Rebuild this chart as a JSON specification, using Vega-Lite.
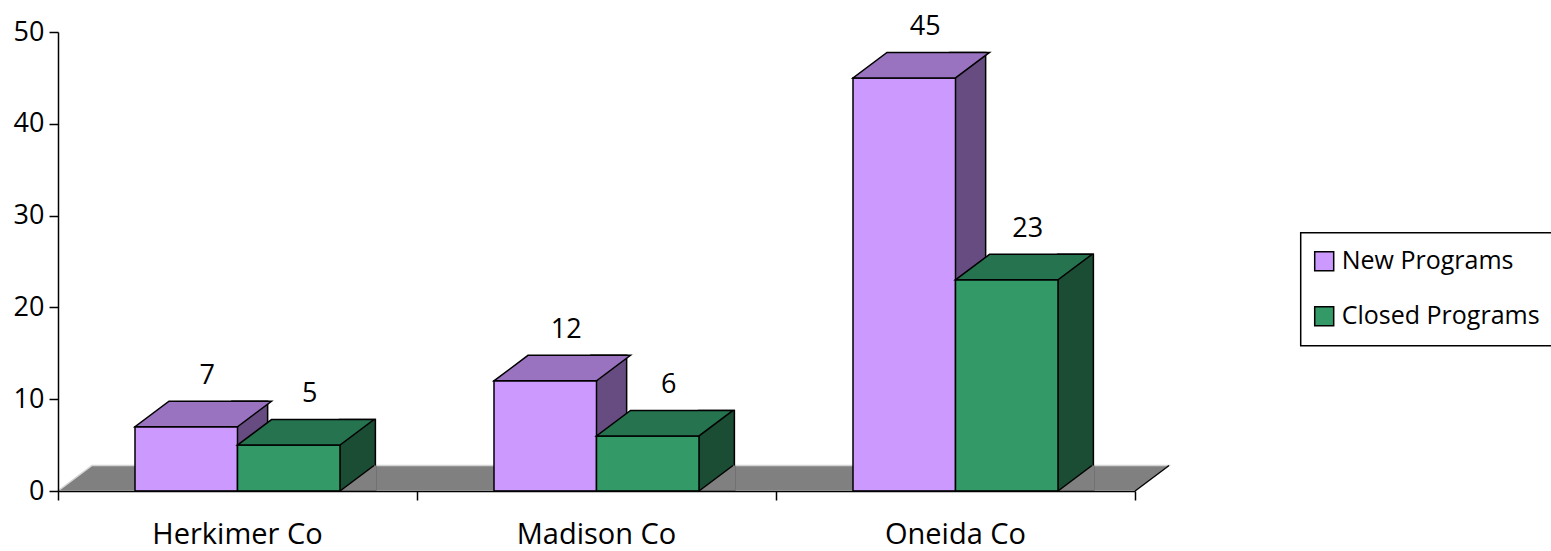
{
  "$schema": "https://vega.github.io/schema/vega-lite/v6.json",
  "width": 1077,
  "height": 459,
  "autosize": {"type": "none"},
  "padding": {"left": 58, "top": 32, "right": 416, "bottom": 60},
  "background": "white",
  "config": {
    "view": {"stroke": null},
    "font": "Open Sans",
    "legend": {"strokeWidth": 1.5}
  },
  "resolve": {"scale": {"xOffset": "independent"}, "axis": {"x": "independent"}},
  "data": {
    "values": [
      {"county": "Herkimer Co", "series": "New Programs", "value": 7},
      {"county": "Herkimer Co", "series": "Closed Programs", "value": 5},
      {"county": "Madison Co", "series": "New Programs", "value": 12},
      {"county": "Madison Co", "series": "Closed Programs", "value": 6},
      {"county": "Oneida Co", "series": "New Programs", "value": 45},
      {"county": "Oneida Co", "series": "Closed Programs", "value": 23}
    ]
  },
  "layer": [
    {
      "data": {"values": [{"county": "Madison Co", "value": 0}]},
      "mark": {"type": "point", "filled": true, "opacity": 1, "size": 4, "shape": "M -538.5 0 L 538.5 0 L 572.5 -25.5 L -504.5 -25.5 Z", "fill": "#808080", "stroke": "#d4d4d4", "strokeWidth": 1.5},
      "encoding": {
        "x": {
          "field": "county", "type": "nominal", "title": null,
          "scale": {"type": "band", "domain": ["Herkimer Co", "Madison Co", "Oneida Co"], "paddingInner": 0, "paddingOuter": 0},
          "axis": {"orient": "bottom", "zindex": 1, "labels": false, "tickSize": 9, "tickWidth": 1.5, "tickColor": "black", "domainColor": "black", "domainWidth": 1.5, "tickBand": "extent", "grid": false}
        },
        "y": {"field": "value", "type": "quantitative", "scale": {"domain": [0, 50], "nice": false}}
      }
    },
    {
      "data": {"values": [{"county": "Madison Co", "value": 0}]},
      "mark": {"type": "point", "filled": false, "opacity": 1, "size": 4, "shape": "M 538.5 0 L 572.5 -25.5", "stroke": "black", "strokeWidth": 1.5},
      "encoding": {
        "x": {"field": "county", "type": "nominal", "axis": null},
        "y": {"field": "value", "type": "quantitative"}
      }
    },
    {
      "mark": {"type": "bar", "yOffset": -25.5, "y2Offset": 0, "stroke": "black", "strokeWidth": 1.5},
      "encoding": {
        "x": {"field": "county", "type": "nominal", "axis": null},
        "xOffset": {"field": "series", "type": "nominal", "scale": {"type": "band", "domain": ["New Programs", "Closed Programs"], "paddingInner": 0.668, "paddingOuter": 1.0852, "align": 0.8069}},
        "y": {"field": "value", "type": "quantitative", "stack": null},
        "y2": {"datum": 0},
        "fill": {"condition": {"test": "datum.series === 'New Programs'", "value": "#664C80"}, "value": "#1A4D33"}
      }
    },
    {
      "mark": {"type": "point", "filled": true, "opacity": 1, "size": 4, "shape": "M 51.25 0 L 85.25 -25.5 L 87.5 -25.5 L 87.5 0 Z", "fill": "#808080", "strokeWidth": 0},
      "encoding": {
        "x": {"field": "county", "type": "nominal", "axis": null},
        "xOffset": {"field": "series", "type": "nominal", "scale": {"type": "band", "domain": ["New Programs", "Closed Programs"], "paddingInner": 0, "paddingOuter": 0.7512}},
        "y": {"datum": 0}
      }
    },
    {
      "mark": {"type": "point", "filled": false, "opacity": 1, "size": 4, "shape": "M 51.25 0 L 85.25 -25.5", "stroke": "black", "strokeWidth": 1.5},
      "encoding": {
        "x": {"field": "county", "type": "nominal", "axis": null},
        "xOffset": {"field": "series", "type": "nominal", "scale": {"type": "band", "domain": ["New Programs", "Closed Programs"], "paddingInner": 0, "paddingOuter": 0.7512}},
        "y": {"datum": 0}
      }
    },
    {
      "mark": {"type": "bar", "stroke": "black", "strokeWidth": 1.5},
      "encoding": {
        "x": {
          "field": "county", "type": "nominal", "title": null,
          "axis": {"orient": "bottom", "zindex": 1, "labelAngle": 0, "labelFontSize": 29, "labelColor": "black", "labelPadding": 29, "ticks": false, "tickSize": 0, "domain": false, "grid": false}
        },
        "xOffset": {"field": "series", "type": "nominal", "scale": {"type": "band", "domain": ["New Programs", "Closed Programs"], "paddingInner": 0, "paddingOuter": 0.7512}},
        "y": {
          "field": "value", "type": "quantitative", "stack": null, "title": null,
          "axis": {"zindex": 1, "values": [0, 10, 20, 30, 40, 50], "labelFontSize": 27, "labelColor": "black", "labelPadding": 5, "tickSize": 9, "tickWidth": 1.5, "tickColor": "black", "domainColor": "black", "domainWidth": 1.5, "grid": false}
        },
        "color": {
          "field": "series", "type": "nominal",
          "scale": {"domain": ["New Programs", "Closed Programs"], "range": ["#CC99FF", "#339966"]},
          "legend": {"title": null, "orient": "none", "legendX": 1242.7, "legendY": 200.7, "strokeColor": "black", "padding": 16, "labelFontSize": 25, "labelColor": "black", "labelFont": "Open Sans", "rowPadding": 29, "labelOffset": 5, "symbolOffset": -5, "labelLimit": 400, "symbolType": "square", "symbolSize": 361, "symbolStrokeColor": "black", "symbolStrokeWidth": 1.5, "symbolOpacity": 1}
        }
      }
    },
    {
      "mark": {"type": "point", "filled": true, "opacity": 1, "size": 4, "shape": "M -51.25 0 L 51.25 0 L 85.25 -25.5 L -17.25 -25.5 Z", "stroke": "black", "strokeWidth": 1.5},
      "encoding": {
        "x": {"field": "county", "type": "nominal", "axis": null},
        "xOffset": {"field": "series", "type": "nominal", "scale": {"type": "band", "domain": ["New Programs", "Closed Programs"], "paddingInner": 0, "paddingOuter": 0.7512}},
        "y": {"field": "value", "type": "quantitative"},
        "fill": {"condition": {"test": "datum.series === 'New Programs'", "value": "#9973BF"}, "value": "#267350"}
      }
    },
    {
      "mark": {"type": "text", "dx": 21, "dy": -43, "baseline": "alphabetic", "align": "center", "fontSize": 27, "color": "black"},
      "encoding": {
        "x": {"field": "county", "type": "nominal", "axis": null},
        "xOffset": {"field": "series", "type": "nominal", "scale": {"type": "band", "domain": ["New Programs", "Closed Programs"], "paddingInner": 0, "paddingOuter": 0.7512}},
        "y": {"field": "value", "type": "quantitative"},
        "text": {"field": "value", "type": "quantitative"}
      }
    }
  ]
}
